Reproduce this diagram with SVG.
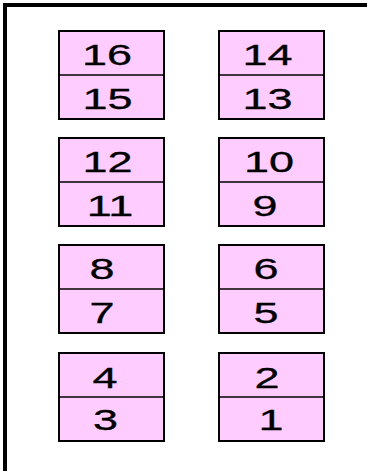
<svg xmlns="http://www.w3.org/2000/svg" width="367" height="471" viewBox="0 0 367 471">
<style>
.box{fill:#ffccff;stroke:#000;stroke-width:2}
.div{stroke:#000;stroke-width:1.5}
.t{font-family:"Liberation Sans",Arial,sans-serif;font-size:30px;fill:#000;stroke:#000;stroke-width:0.3;text-anchor:middle}
</style>
<rect width="367" height="471" fill="#fff"/>
<path d="M5,471 V5 H367" fill="none" stroke="#000" stroke-width="4"/>
<g id="n16-15">
<rect class="box" x="59" y="31" width="105" height="88"/>
<line class="div" x1="59" y1="75" x2="164" y2="75"/>
<text class="t" transform="translate(107,65) scale(1.5,1)">16</text>
<text class="t" transform="translate(107.5,109) scale(1.5,1)">15</text>
</g>
<g id="n14-13">
<rect class="box" x="219" y="31" width="105" height="88"/>
<line class="div" x1="219" y1="75" x2="324" y2="75"/>
<text class="t" transform="translate(267.5,65) scale(1.5,1)">14</text>
<text class="t" transform="translate(267.5,109) scale(1.5,1)">13</text>
</g>
<g id="n12-11">
<rect class="box" x="59" y="138" width="105" height="88"/>
<line class="div" x1="59" y1="182" x2="164" y2="182"/>
<text class="t" transform="translate(107.5,172) scale(1.5,1)">12</text>
<text class="t" transform="translate(110,216) scale(1.5,1)">11</text>
</g>
<g id="n10-9">
<rect class="box" x="219" y="138" width="105" height="88"/>
<line class="div" x1="219" y1="182" x2="324" y2="182"/>
<text class="t" transform="translate(269,172) scale(1.5,1)">10</text>
<text class="t" transform="translate(265,216) scale(1.5,1)">9</text>
</g>
<g id="n8-7">
<rect class="box" x="59" y="245" width="105" height="88"/>
<line class="div" x1="59" y1="289" x2="164" y2="289"/>
<text class="t" transform="translate(102,279) scale(1.5,1)">8</text>
<text class="t" transform="translate(102,323) scale(1.5,1)">7</text>
</g>
<g id="n6-5">
<rect class="box" x="219" y="245" width="105" height="88"/>
<line class="div" x1="219" y1="289" x2="324" y2="289"/>
<text class="t" transform="translate(266,279) scale(1.5,1)">6</text>
<text class="t" transform="translate(266,323) scale(1.5,1)">5</text>
</g>
<g id="n4-3">
<rect class="box" x="59" y="353" width="105" height="88"/>
<line class="div" x1="59" y1="397" x2="164" y2="397"/>
<text class="t" transform="translate(105,387.5) scale(1.5,1)">4</text>
<text class="t" transform="translate(105.5,430) scale(1.5,1)">3</text>
</g>
<g id="n2-1">
<rect class="box" x="219" y="353" width="105" height="88"/>
<line class="div" x1="219" y1="397" x2="324" y2="397"/>
<text class="t" transform="translate(267,387.5) scale(1.5,1)">2</text>
<text class="t" transform="translate(271,430) scale(1.5,1)">1</text>
</g>
<g id="connectors"></g>
</svg>
